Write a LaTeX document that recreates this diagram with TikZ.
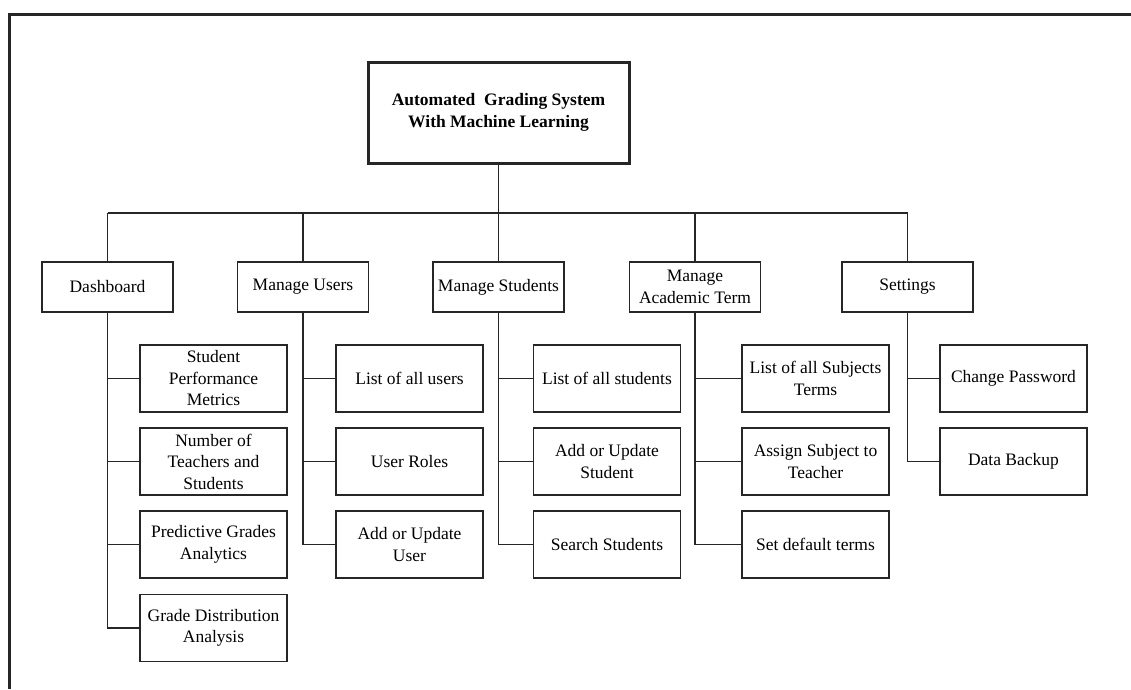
\documentclass[tikz,border=0pt]{standalone}
\usepackage{fontspec}
\setmainfont{Liberation Serif}
\begin{document}
\begin{tikzpicture}[x=1pt,y=-1pt,
  every node/.style={font=\fontsize{17.5}{21.5}\selectfont, align=center, inner sep=0pt},
  rootbox/.style={draw=black!85, line width=3pt, minimum width=261pt, minimum height=101pt, font=\fontsize{17.5}{21.5}\selectfont\bfseries},
  topbox/.style={draw=black!85, line width=1.5pt, minimum width=131pt, minimum height=50pt},
  childbox/.style={draw=black!85, line width=1.5pt, minimum width=147pt, minimum height=67pt},
  link/.style={draw=black!85, line width=1.5pt}
]
\useasboundingbox (0,0) rectangle (1131,689);
\draw[black!85, line width=3pt] (9,689) -- (9,14) -- (1131,14);

\node[rootbox] (root) at (498.5,112.5) {Automated \ Grading System\\With Machine Learning};

\node[topbox] (d) at (107.5,287) {Dashboard};
\node[topbox] (u) at (303,287) {Manage Users};
\node[topbox] (s) at (498.5,287) {Manage Students};
\node[topbox] (a) at (695,287) {Manage\\Academic Term};
\node[topbox] (t) at (907.5,287) {Settings};

\coordinate (busL) at (107.5,213);
\coordinate (busR) at (907.5,213);
\draw[link] (busL) -- (busR);
\draw[link] (root.south) -- (root.south |- busL);
\foreach \n in {d,u,s,a,t} {\draw[link] (\n.north) -- (\n.north |- busL);}

% Dashboard children
\node[childbox] (d1) at (213.5,378.5) {Student\\Performance\\Metrics};
\node[childbox] (d2) at (213.5,461.5) {Number of\\Teachers and\\Students};
\node[childbox] (d3) at (213.5,544.5) {Predictive Grades\\Analytics};
\node[childbox] (d4) at (213.5,628) {Grade Distribution\\Analysis};
% Users children
\node[childbox] (u1) at (409.5,378.5) {List of all users};
\node[childbox] (u2) at (409.5,461.5) {User Roles};
\node[childbox] (u3) at (409.5,544.5) {Add or Update\\User};
% Students children
\node[childbox] (s1) at (607,378.5) {List of all students};
\node[childbox] (s2) at (607,461.5) {Add or Update\\Student};
\node[childbox] (s3) at (607,544.5) {Search Students};
% Academic children
\node[childbox] (a1) at (815.5,378.5) {List of all Subjects\\Terms};
\node[childbox] (a2) at (815.5,461.5) {Assign Subject to\\Teacher};
\node[childbox] (a3) at (815.5,544.5) {Set default terms};
% Settings children
\node[childbox] (t1) at (1013.5,378.5) {Change Password};
\node[childbox] (t2) at (1013.5,461.5) {Data Backup};

\draw[link] (d.south) |- (d4.west);
\foreach \c in {d1,d2,d3} {\draw[link] (\c.west) -- (\c.west -| d.south);}
\draw[link] (u.south) |- (u3.west);
\foreach \c in {u1,u2} {\draw[link] (\c.west) -- (\c.west -| u.south);}
\draw[link] (s.south) |- (s3.west);
\foreach \c in {s1,s2} {\draw[link] (\c.west) -- (\c.west -| s.south);}
\draw[link] (a.south) |- (a3.west);
\foreach \c in {a1,a2} {\draw[link] (\c.west) -- (\c.west -| a.south);}
\draw[link] (t.south) |- (t2.west);
\draw[link] (t1.west) -- (t1.west -| t.south);
\end{tikzpicture}
\end{document}
